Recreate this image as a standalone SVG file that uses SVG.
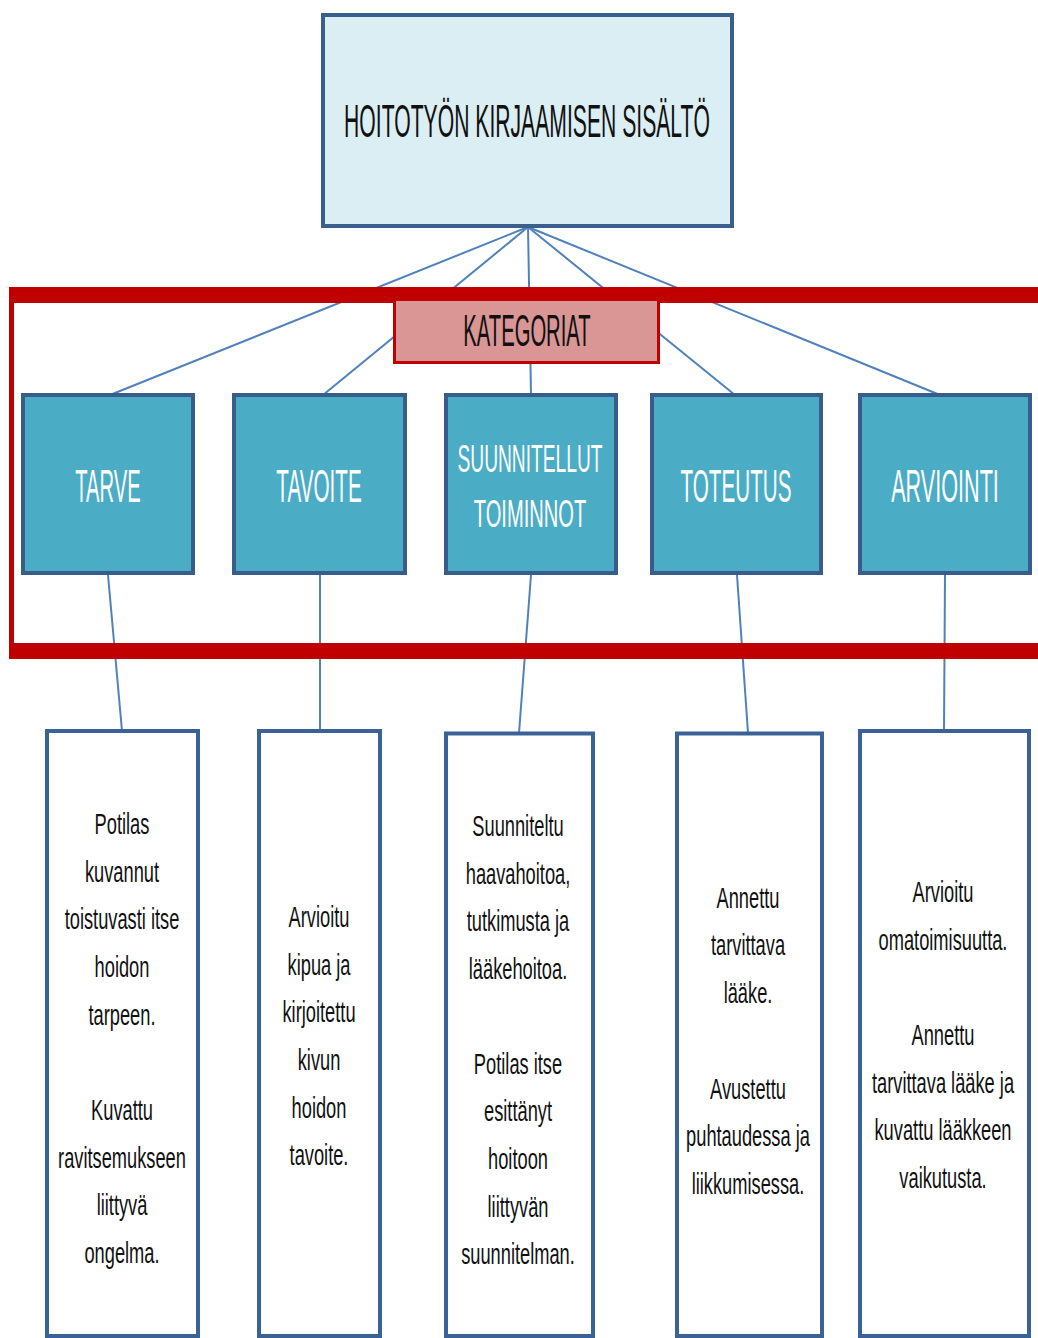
<svg xmlns="http://www.w3.org/2000/svg" width="1038" height="1338" viewBox="0 0 1038 1338">
  <style>
    .conn { stroke: #4f81bd; stroke-width: 2; fill: none; }
    .band { fill: #c00000; }
    .root { fill: #dbeef4; stroke: #3b5f8c; stroke-width: 4; }
    .cat-hdr { fill: #d99694; stroke: #c00000; stroke-width: 3; }
    .cat { fill: #4bacc6; stroke: #385d8a; stroke-width: 4; }
    .item { fill: #ffffff; stroke: #3b6296; stroke-width: 4; }
    .lbl { font-family: "Liberation Sans", Arial, sans-serif; text-anchor: middle; }
    .dark { fill: #111111; }
    .light { fill: #ffffff; }
    .body { font-family: "Liberation Sans", Arial, sans-serif; font-size: 29px; text-anchor: middle; fill: #111111; }
  </style>

  <!-- connectors -->
  <g id="connectors">
    <line class="conn" x1="528" y1="227" x2="110" y2="395"/>
    <line class="conn" x1="528" y1="227" x2="323" y2="395"/>
    <line class="conn" x1="528" y1="227" x2="531" y2="395"/>
    <line class="conn" x1="528" y1="227" x2="735" y2="395"/>
    <line class="conn" x1="528" y1="227" x2="940" y2="395"/>
    <line class="conn" x1="108" y1="575" x2="122" y2="731"/>
    <line class="conn" x1="320" y1="575" x2="320" y2="731"/>
    <line class="conn" x1="531" y1="575" x2="519" y2="733"/>
    <line class="conn" x1="737" y1="575" x2="748" y2="733"/>
    <line class="conn" x1="945" y1="575" x2="944" y2="730"/>
  </g>

  <!-- red category frame -->
  <g id="frame">
    <rect class="band" x="9" y="287" width="1040" height="16"/>
    <rect class="band" x="9" y="643" width="1040" height="16"/>
    <rect class="band" x="9" y="287" width="5" height="372"/>
  </g>

  <g id="root">
    <rect class="root" x="323" y="15" width="409" height="211"/>
    <text class="lbl dark" font-size="47" transform="translate(527,137) scale(0.45,1)">HOITOTYÖN KIRJAAMISEN SISÄLTÖ</text>
  </g>

  <g id="kategoriat">
    <rect class="cat-hdr" x="394.5" y="299.5" width="264" height="63"/>
    <text class="lbl dark" font-size="44" transform="translate(527,346) scale(0.46,1)">KATEGORIAT</text>
  </g>

  <g id="tarve">
    <rect class="cat" x="23" y="395" width="170" height="178"/>
    <text class="lbl light" font-size="47" transform="translate(108,502) scale(0.43,1)">TARVE</text>
  </g>
  <g id="tavoite">
    <rect class="cat" x="234" y="395" width="171" height="178"/>
    <text class="lbl light" font-size="47" transform="translate(319,502) scale(0.44,1)">TAVOITE</text>
  </g>
  <g id="suunnitellut">
    <rect class="cat" x="446" y="395" width="170" height="178"/>
    <text class="lbl light" font-size="38" transform="translate(530,472) scale(0.505,1)">SUUNNITELLUT</text>
    <text class="lbl light" font-size="38" transform="translate(530,527) scale(0.53,1)">TOIMINNOT</text>
  </g>
  <g id="toteutus">
    <rect class="cat" x="652" y="395" width="169" height="178"/>
    <text class="lbl light" font-size="47" transform="translate(736,502) scale(0.44,1)">TOTEUTUS</text>
  </g>
  <g id="arviointi">
    <rect class="cat" x="860" y="395" width="170" height="178"/>
    <text class="lbl light" font-size="47" transform="translate(945,502) scale(0.46,1)">ARVIOINTI</text>
  </g>

  <!-- example entries -->
  <g id="tarve-example">
    <rect class="item" x="47" y="731" width="151" height="605"/>
    <g transform="translate(122,0) scale(0.63,1)">
      <text class="body" x="0" y="834">Potilas</text>
      <text class="body" x="0" y="882">kuvannut</text>
      <text class="body" x="0" y="929">toistuvasti itse</text>
      <text class="body" x="0" y="977">hoidon</text>
      <text class="body" x="0" y="1025">tarpeen.</text>
      <text class="body" x="0" y="1120">Kuvattu</text>
      <text class="body" x="0" y="1168">ravitsemukseen</text>
      <text class="body" x="0" y="1215">liittyvä</text>
      <text class="body" x="0" y="1263">ongelma.</text>
    </g>
  </g>
  <g id="tavoite-example">
    <rect class="item" x="259" y="731" width="121" height="605"/>
    <g transform="translate(319,0) scale(0.63,1)">
      <text class="body" x="0" y="927">Arvioitu</text>
      <text class="body" x="0" y="975">kipua ja</text>
      <text class="body" x="0" y="1022">kirjoitettu</text>
      <text class="body" x="0" y="1070">kivun</text>
      <text class="body" x="0" y="1118">hoidon</text>
      <text class="body" x="0" y="1165">tavoite.</text>
    </g>
  </g>
  <g id="suunnitellut-example">
    <rect class="item" x="446" y="733.5" width="147" height="602.5"/>
    <g transform="translate(518,0) scale(0.63,1)">
      <text class="body" x="0" y="836">Suunniteltu</text>
      <text class="body" x="0" y="884">haavahoitoa,</text>
      <text class="body" x="0" y="931">tutkimusta ja</text>
      <text class="body" x="0" y="979">lääkehoitoa.</text>
      <text class="body" x="0" y="1074">Potilas itse</text>
      <text class="body" x="0" y="1121">esittänyt</text>
      <text class="body" x="0" y="1169">hoitoon</text>
      <text class="body" x="0" y="1217">liittyvän</text>
      <text class="body" x="0" y="1264">suunnitelman.</text>
    </g>
  </g>
  <g id="toteutus-example">
    <rect class="item" x="677" y="733.5" width="145" height="602.5"/>
    <g transform="translate(748,0) scale(0.63,1)">
      <text class="body" x="0" y="908">Annettu</text>
      <text class="body" x="0" y="955">tarvittava</text>
      <text class="body" x="0" y="1003">lääke.</text>
      <text class="body" x="0" y="1099">Avustettu</text>
      <text class="body" x="0" y="1146">puhtaudessa ja</text>
      <text class="body" x="0" y="1194">liikkumisessa.</text>
    </g>
  </g>
  <g id="arviointi-example">
    <rect class="item" x="860" y="731" width="169" height="605"/>
    <g transform="translate(943,0) scale(0.63,1)">
      <text class="body" x="0" y="902">Arvioitu</text>
      <text class="body" x="0" y="950">omatoimisuutta.</text>
      <text class="body" x="0" y="1045">Annettu</text>
      <text class="body" x="0" y="1093">tarvittava lääke ja</text>
      <text class="body" x="0" y="1140">kuvattu lääkkeen</text>
      <text class="body" x="0" y="1188">vaikutusta.</text>
    </g>
  </g>
</svg>
